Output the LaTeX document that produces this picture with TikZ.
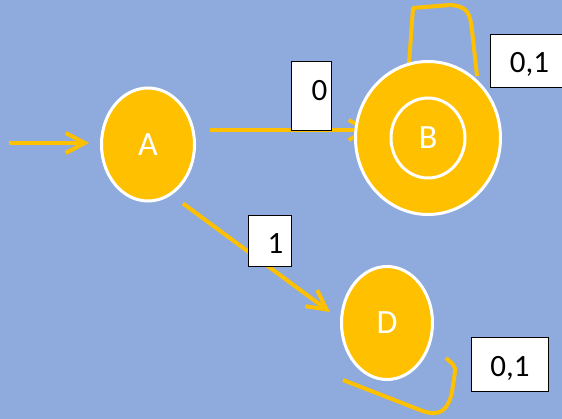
\documentclass[tikz,border=0pt]{standalone}
\usepackage{fontspec}
\setmainfont{Carlito}
\usetikzlibrary{arrows.meta,calc,shapes.geometric}
\definecolor{bgblue}{HTML}{8FAADC}
\definecolor{amber}{HTML}{FFC000}
\pgfdeclarelayer{back}\pgfdeclarelayer{under}
\pgfsetlayers{back,under,main}
\begin{document}
\begin{tikzpicture}[x=1pt,y=-1pt,
 state/.style={ellipse, fill=amber, draw=white, line width=3pt, inner sep=0pt, text=white, font=\fontsize{34}{34}\selectfont},
 edge/.style={draw=amber, line width=4pt},
 tip/.style={-{Straight Barb[length=19pt,width=20pt]}},
 lbl/.style={draw=black, fill=white, line width=0.8pt, inner sep=0pt, anchor=north west},
 lbltxt/.style={font=\fontsize{31}{31}\selectfont, inner sep=0pt, text depth=0pt}]
\begin{pgfonlayer}{back}
\fill[bgblue] (0,0) rectangle (562,419);
\end{pgfonlayer}
\useasboundingbox (0,0) rectangle (562,419);
% states
\node[state, minimum width=93pt, minimum height=113pt] (A) at (148,144.5) {A};
\node[state, minimum width=145pt, minimum height=153pt] (B) at (428,138) {};
\draw[white, line width=3pt] (B.center) ellipse [x radius=37, y radius=40];
\node[text=white, font=\fontsize{34}{34}\selectfont, inner sep=0pt] (Bt) at (B.center) {B};
\node[state, minimum width=91pt, minimum height=113pt] (D) at (387,323) {D};
\coordinate (s) at (9,143);
% edges
\begin{pgfonlayer}{under}
\draw[edge, tip] (s) -- ($(A.west)+(-11,-1.5)$);
\draw[edge, tip] ($(A.east)+(14,-14.5)$) -- ($(B.west)+(18,-8)$);
\draw[edge, tip] ($(A.south)+(35,1)$) -- ($(D.west)+(-10,-11)$);
\draw[edge, line join=round] ($(B.center)+(-19,-74)$) -- ($(B.center)+(-15,-130)$) -- ($(B.center)+(22,-133)$)
   .. controls ($(B.center)+(40,-132)$) and ($(B.center)+(42,-124)$) .. ($(B.center)+(44,-108)$) -- ($(B.center)+(49,-62)$);
\draw[edge] ($(D.center)+(-44,57)$) -- ($(D.center)+(33,87)$)
   .. controls ($(D.center)+(53,95)$) and ($(D.center)+(61,87)$) .. ($(D.center)+(65,69)$) -- ($(D.center)+(68,49)$)
   .. controls ($(D.center)+(68,43)$) .. ($(D.center)+(59,35)$);
\end{pgfonlayer}
% labels
\node[lbl, minimum width=40pt, minimum height=69pt] (l0) at (291,61) {};
\node[lbltxt] (t0) at ($(l0.center)+(8,-5)$) {0};
\node[lbl, minimum width=43pt, minimum height=51pt] (l1) at (248,215) {};
\node[lbltxt] (t1) at ($(l1.center)+(5.5,2.5)$) {1};
\node[lbl, minimum width=78pt, minimum height=53pt] (lb) at (490,34) {};
\node[lbltxt] (tb) at ($(lb.center)+(0,2)$) {0,1};
\node[lbl, minimum width=77pt, minimum height=54pt] (ld) at (471,337) {};
\node[lbltxt] (td) at ($(ld.center)+(0,2)$) {0,1};
\end{tikzpicture}
\end{document}
